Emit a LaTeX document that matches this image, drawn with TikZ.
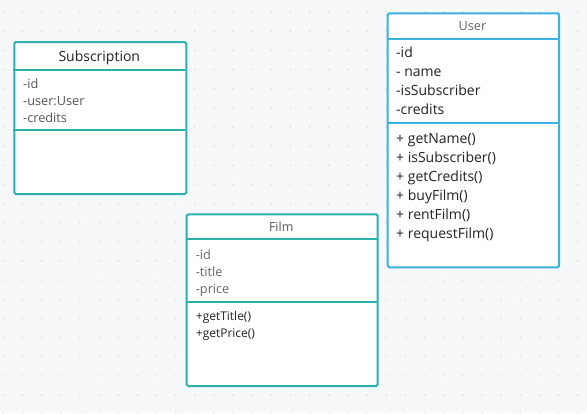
\documentclass[tikz,border=0pt]{standalone}
\usepackage{fontspec}
\setmainfont{Open Sans}
\definecolor{bgc}{HTML}{F7F8FA}
\definecolor{dotc}{HTML}{DEDFE3}
\definecolor{tealc}{HTML}{2AB1AE}
\definecolor{bluec}{HTML}{3BB2E0}
\definecolor{txtdark}{HTML}{222222}
\definecolor{txtgray}{HTML}{555555}
\definecolor{txtlight}{HTML}{666666}
\tikzset{
  classbox/.style={draw, line width=2pt, fill=white, rounded corners=1.5pt, anchor=north west, inner sep=0pt},
  sepline/.style={line width=2pt},
  txt/.style={anchor=mid west, inner sep=0pt},
  ttl/.style={anchor=mid, inner sep=0pt},
}
\begin{document}
\begin{tikzpicture}[x=1pt,y=-1pt]
\useasboundingbox (0,0) rectangle (587,413);
\fill[bgc] (0,0) rectangle (587,413);
\foreach \i in {0,...,30}{
  \foreach \j in {0,...,21}{
    \fill[dotc] (3.3+19.15*\i, 12+19.15*\j) circle (1pt);
  }
}
% Subscription
\node[classbox, draw=tealc, minimum width=172pt, minimum height=152pt] (sub) at (13.3,41) {};
\coordinate (subh1) at (13.3,70); \coordinate (subh2) at (185.3,70);
\coordinate (subs1) at (13.3,130); \coordinate (subs2) at (185.3,130);
\draw[sepline, tealc] (subh1) -- (subh2);
\draw[sepline, tealc] (subs1) -- (subs2);
\node[ttl, font=\fontsize{14}{16}\selectfont, text=txtdark] (subt) at (99.3,58.5) {Subscription};
\node[txt, font=\fontsize{12.7}{15}\selectfont, text=txtgray] (suba1) at (23,85.5) {-id};
\node[txt, font=\fontsize{12.7}{15}\selectfont, text=txtgray] (suba2) at (23,102.5) {-user:User};
\node[txt, font=\fontsize{12.7}{15}\selectfont, text=txtgray] (suba3) at (23,119.5) {-credits};
% User
\node[classbox, draw=bluec, minimum width=171.5pt, minimum height=254pt] (usr) at (386.7,12.3) {};
\coordinate (usrh1) at (386.7,38.5); \coordinate (usrh2) at (558.2,38.5);
\coordinate (usrs1) at (386.7,123); \coordinate (usrs2) at (558.2,123);
\draw[sepline, bluec] (usrh1) -- (usrh2);
\draw[sepline, bluec] (usrs1) -- (usrs2);
\node[ttl, font=\fontsize{12.7}{15}\selectfont, text=txtlight] (usrt) at (472.5,27.5) {User};
\node[txt, font=\fontsize{14}{16}\selectfont, text=txtdark] (usra1) at (396,54.5) {-id};
\node[txt, font=\fontsize{14}{16}\selectfont, text=txtdark] (usra2) at (396,73.5) {- name};
\node[txt, font=\fontsize{14}{16}\selectfont, text=txtdark] (usra3) at (396,92.5) {-isSubscriber};
\node[txt, font=\fontsize{14}{16}\selectfont, text=txtdark] (usra4) at (396,111.5) {-credits};
\node[txt, font=\fontsize{14}{16}\selectfont, text=txtdark] (usrm1) at (396,140.5) {+ getName()};
\node[txt, font=\fontsize{14}{16}\selectfont, text=txtdark] (usrm2) at (396,159.5) {+ isSubscriber()};
\node[txt, font=\fontsize{14}{16}\selectfont, text=txtdark] (usrm3) at (396,178.5) {+ getCredits()};
\node[txt, font=\fontsize{14}{16}\selectfont, text=txtdark] (usrm4) at (396,197.5) {+ buyFilm()};
\node[txt, font=\fontsize{14}{16}\selectfont, text=txtdark] (usrm5) at (396,216.5) {+ rentFilm()};
\node[txt, font=\fontsize{14}{16}\selectfont, text=txtdark] (usrm6) at (396,235.5) {+ requestFilm()};
% Film
\node[classbox, draw=tealc, minimum width=191pt, minimum height=171.7pt] (flm) at (185.7,213.3) {};
\coordinate (flmh1) at (185.7,239.3); \coordinate (flmh2) at (376.7,239.3);
\coordinate (flms1) at (185.7,301.7); \coordinate (flms2) at (376.7,301.7);
\draw[sepline, tealc] (flmh1) -- (flmh2);
\draw[sepline, tealc] (flms1) -- (flms2);
\node[ttl, font=\fontsize{12.5}{14}\selectfont, text=txtgray] (flmt) at (281.2,229) {Film};
\node[txt, font=\fontsize{12.7}{14}\selectfont, text=txtlight] (flma1) at (195.7,256.5) {-id};
\node[txt, font=\fontsize{12.7}{14}\selectfont, text=txtlight] (flma2) at (195.7,273.5) {-title};
\node[txt, font=\fontsize{12.7}{14}\selectfont, text=txtlight] (flma3) at (195.7,290.5) {-price};
\node[txt, font=\fontsize{12}{14}\selectfont, text=txtdark] (flmm1) at (195.7,317.5) {+getTitle()};
\node[txt, font=\fontsize{12}{14}\selectfont, text=txtdark] (flmm2) at (195.7,334.5) {+getPrice()};
\end{tikzpicture}
\end{document}
